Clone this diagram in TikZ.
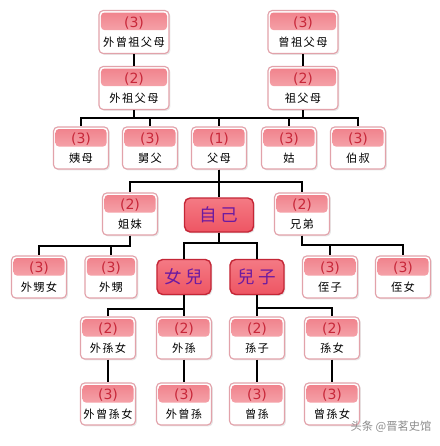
\documentclass[tikz,border=0pt]{standalone}
\usepackage{fontspec}
\usetikzlibrary{shadows}
\newfontfamily\cjk[LetterSpace=12]{Noto Sans CJK TC}
\newfontfamily\cjkbig[LetterSpace=22]{Noto Sans CJK TC}
\newfontfamily\cjksc{Noto Sans CJK SC}
\newfontfamily\numfont{DejaVu Sans}
\definecolor{kinedge}{HTML}{E2A2AA}
\definecolor{bandtop}{HTML}{F0808A}
\definecolor{bandbot}{HTML}{FAC8CB}
\definecolor{numred}{HTML}{C8283A}
\definecolor{selfedge}{HTML}{C42636}
\definecolor{selftop}{HTML}{F47A84}
\definecolor{selfbot}{HTML}{EE5563}
\definecolor{selftext}{HTML}{6C1AA0}
\newcommand\gen[1]{{\numfont\fontsize{10}{11}\selectfont\color{numred}#1}}

\begin{document}
\begin{tikzpicture}[
    x=0.25mm, y=-0.25mm,
    kin/.style={rectangle, rounded corners=3pt, draw=kinedge, line width=0.8pt,
                fill=white, minimum width=13.75mm, minimum height=10.5mm,
                inner sep=0pt, align=center, font=\cjk\fontsize{8}{14}\selectfont,
                drop shadow={shadow xshift=0.35mm, shadow yshift=-0.35mm, opacity=0.18},
                path picture={\fill[top color=bandtop, bottom color=bandbot, rounded corners=2.5pt]
                  ([xshift=0.5mm,yshift=-0.5mm]path picture bounding box.north west) rectangle
                  ([xshift=-0.5mm,yshift=-4.9mm]path picture bounding box.north east);}},
    elder/.style={kin, minimum width=17.5mm, minimum height=10.75mm},
    core/.style={rectangle, rounded corners=4pt, draw=selfedge, line width=1pt,
                 top color=selftop, bottom color=selfbot, text=selftext,
                 minimum width=13.5mm, minimum height=8.75mm, inner sep=0pt,
                 font=\cjkbig\fontsize{12.5}{14}\selectfont,
                 drop shadow={shadow xshift=0.35mm, shadow yshift=-0.35mm, opacity=0.2}},
    link/.style={draw=black, line width=0.8pt}
]
    \fill[white] (0,0) rectangle (440,446);
    \useasboundingbox (0,0) rectangle (440,446);

    \node[elder] (waizengzu) at (134,32) {\gen{(3)}\\外曾祖父母};
    \node[elder] (zengzu) at (303,32) {\gen{(3)}\\曾祖父母};
    \node[elder] (waizu) at (134,88) {\gen{(2)}\\外祖父母};
    \node[elder] (zu) at (303,88) {\gen{(2)}\\祖父母};

    \node[kin] (yimu) at (81,148) {\gen{(3)}\\姨母};
    \node[kin] (jiufu) at (150,148) {\gen{(3)}\\舅父};
    \node[kin] (fumu) at (219,148) {\gen{(1)}\\父母};
    \node[kin] (gu) at (289,148) {\gen{(3)}\\姑};
    \node[kin] (boshu) at (358,148) {\gen{(3)}\\伯叔};

    \node[kin] (jiemei) at (130,214) {\gen{(2)}\\姐妹};
    \node[core, minimum width=17.25mm, minimum height=8.5mm] (ziji) at (219,215) {自己};
    \node[kin] (xiongdi) at (302,214) {\gen{(2)}\\兄弟};

    \node[kin] (waishengnv) at (39,277) {\gen{(3)}\\外甥女};
    \node[kin, minimum width=13mm] (waisheng) at (111,277) {\gen{(3)}\\外甥};
    \node[core] (nver) at (184,277) {女兒};
    \node[core] (erzi) at (257,277) {兒子};
    \node[kin] (zhizi) at (330,277) {\gen{(3)}\\侄子};
    \node[kin] (zhinv) at (403,277) {\gen{(3)}\\侄女};

    \node[kin] (waisunnv) at (108,338) {\gen{(2)}\\外孫女};
    \node[kin] (waisun) at (184,338) {\gen{(2)}\\外孫};
    \node[kin] (sunzi) at (257,338) {\gen{(2)}\\孫子};
    \node[kin] (sunnv) at (332,338) {\gen{(2)}\\孫女};

    \node[kin] (waizengsunnv) at (108,404) {\gen{(3)}\\外曾孫女};
    \node[kin] (waizengsun) at (184,404) {\gen{(3)}\\外曾孫};
    \node[kin] (zengsun) at (257,404) {\gen{(3)}\\曾孫};
    \node[kin] (zengsunnv) at (332,404) {\gen{(3)}\\曾孫女};

    \node[text=black!45, font=\cjksc\fontsize{8}{10}\selectfont] (credit) at (391,427) {头条 @晋茗史馆};

    \coordinate (bar1) at (0,118);
    \coordinate (bar2) at (0,182);
    \coordinate (bar3) at (0,246);
    \coordinate (bar4) at (0,245);
    \coordinate (bar5) at (0,243);
    \coordinate (bar6) at (0,309);
    \coordinate (bar7) at (0,308);

    \foreach \a/\b in {waizengzu/waizu, zengzu/zu, fumu/ziji, waisunnv/waizengsunnv,
                       waisun/waizengsun, sunzi/zengsun, sunnv/zengsunnv}
        \draw[link] (\a) -- (\b);

    \foreach \p/\c/\r in {waizu/yimu/bar1, waizu/jiufu/bar1, waizu/fumu/bar1,
                          zu/fumu/bar1, zu/gu/bar1, zu/boshu/bar1,
                          fumu/jiemei/bar2, fumu/xiongdi/bar2,
                          jiemei/waishengnv/bar3, jiemei/waisheng/bar3,
                          xiongdi/zhizi/bar4, xiongdi/zhinv/bar4,
                          ziji/nver/bar5, ziji/erzi/bar5,
                          nver/waisunnv/bar6, nver/waisun/bar6,
                          erzi/sunzi/bar7, erzi/sunnv/bar7}
        \draw[link] (\p.south) -- (\p.south |- \r) -| (\c.north);
\end{tikzpicture}
\end{document}
